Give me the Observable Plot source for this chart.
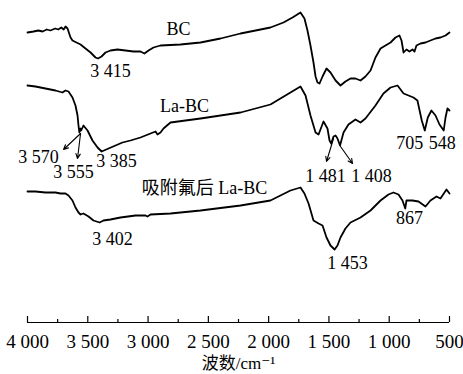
<!DOCTYPE html>
<html>
<head>
<meta charset="utf-8">
<script src="https://cdn.jsdelivr.net/npm/d3@7"></script>
<script src="https://cdn.jsdelivr.net/npm/@observablehq/plot@0.6"></script>
<style>
  html, body { margin: 0; padding: 0; background: #fff; }
  #chart svg { display: block; }
  #chart svg, #chart svg text { font-family: "Liberation Serif", "DejaVu Serif", "Noto Sans CJK SC", serif !important; }
</style>
</head>
<body>
<div id="chart"></div>
<script>
// Wavenumbers (cm^-1) and relative transmittance (arbitrary units, stacked offsets)
const bcWn = [4000,3950,3910,3875,3840,3810,3770,3745,3720,3700,3685,3668,3643,3627,3594,3560,3519,3477,3436,3415,3386,3353,3312,3254,3187,3121,3063,3030,2996,2955,2897,2731,2565,2399,2233,2067,1985,1877,1802,1736,1703,1678,1653,1628,1611,1595,1578,1553,1520,1487,1445,1404,1363,1321,1280,1238,1197,1155,1114,1072,1031,989,948,915,898,881,857,832,807,790,774,740,699,658,616,575,533,500];
const bcT  = [290,291,292,291,293,292,294,293,295,293,296,294,285,282,280,278,274,270,265,264,266,270,272,273,272,271,271,269,272,275,277,278,280,284,289,293,295,300,305,310,304,292,277,260,246,240,239,246,254,250,242,237,241,244,244,242,246,252,265,274,277,280,285,287,282,270,273,271,273,271,277,279,280,282,284,285,287,290];

const labcWn = [4000,3934,3851,3768,3710,3685,3660,3627,3602,3585,3577,3570,3560,3555,3536,3502,3461,3419,3385,3328,3270,3212,3146,3063,2980,2938,2922,2897,2872,2814,2565,2233,1985,1819,1736,1694,1653,1611,1586,1545,1512,1495,1481,1462,1445,1429,1408,1379,1338,1280,1238,1197,1114,1048,989,931,881,840,799,766,730,705,680,650,616,583,548,533,517,500];
const labcT  = [237,236,234,232,230,232,231,225,217,207,197,190,194,192,197,192,182,175,171,174,177,180,182,185,189,191,188,190,194,200,204,210,218,230,236,227,207,190,188,201,194,182,179,186,187,184,177,190,198,203,200,204,217,229,235,237,229,227,225,222,202,192,205,212,207,198,192,205,214,212];

const lafWn = [4000,3934,3851,3768,3726,3685,3660,3627,3602,3577,3560,3536,3494,3453,3402,3370,3312,3229,3104,3021,3005,2980,2814,2565,2233,1985,1819,1736,1703,1669,1628,1586,1553,1520,1487,1453,1429,1404,1363,1321,1238,1155,1072,1006,965,923,890,867,857,807,757,699,658,608,575,525,500];
const lafT  = [131,131,130,130,129,129,127,122,115,110,108,109,106,102,100,102,103,105,107,107,106,108,109,112,117,122,132,135,129,119,102,99,97,85,77,73,77,85,94,100,105,112,122,128,130,128,122,114,122,122,121,116,122,126,124,133,129];

// Annotation labels
const labelText = ["BC","3 415","La-BC","3 570","3 555","3 385","吸附氟后 La-BC","3 402","1 481","1 408","705","548","867","1 453"];
const labelWn   = [2748,3312,2698,3909,3618,3262,2532,3295,1528,1147,830,560,832,1346];
const labelT    = [293,251,216,165,150,161,134,83,146,146,179,179,104,59];

// Annotation arrows (start -> end)
const arrowWn1 = [3560,3560,1462,1404];
const arrowT1  = [189,189,184,176];
const arrowWn2 = [3701,3585,1520,1304];
const arrowT2  = [173,164,161,159];

// Axis ticks
const majorTicks = [4000,3500,3000,2500,2000,1500,1000,500];
const minorTicks = [3750,3250,2750,2250,1750,1250,750];
const xTitle = "波数/cm⁻¹";

const series = [
  {wn: bcWn, t: bcT},
  {wn: labcWn, t: labcT},
  {wn: lafWn, t: lafT}
].map((s, i) => s.wn.map((w, j) => ({series: i, w, t: s.t[j]})));

const labels = labelText.map((text, i) => ({text, w: labelWn[i], t: labelT[i]}));
const arrows = arrowWn1.map((w1, i) => ({w1, t1: arrowT1[i], w2: arrowWn2[i], t2: arrowT2[i]}));

const fmt = d => d >= 1000 ? d3.format(",")(d).replace(",", " ") : String(d);

const chart = Plot.plot({
  width: 463,
  height: 374,
  marginLeft: 27,
  marginRight: 14,
  marginTop: 0,
  marginBottom: 52,
  style: {fontFamily: '"Liberation Serif", "Noto Sans CJK SC", serif', fontSize: "18px", color: "#000", background: "#fff"},
  x: {domain: [4000, 500]},
  y: {domain: [0, 322], axis: null},
  marks: [
    Plot.ruleY([0], {stroke: "#000", strokeWidth: 1.2}),
    Plot.ruleX(majorTicks, {x: d => d, y1: 0, y2: 6, stroke: "#000", strokeWidth: 1.2}),
    Plot.ruleX(minorTicks, {x: d => d, y1: 0, y2: 3, stroke: "#000", strokeWidth: 1.2}),
    Plot.axisX({ticks: majorTicks, tickSize: 0, tickPadding: 12, tickFormat: fmt, fontSize: 19, label: null}),
    Plot.text([xTitle], {frameAnchor: "bottom", lineAnchor: "middle", dy: 41, fontSize: 17, fill: "#000"}),
    ...series.map(s => Plot.line(s, {x: "w", y: "t", stroke: "#000", strokeWidth: 1.8, curve: "linear"})),
    Plot.arrow(arrows, {x1: "w1", y1: "t1", x2: "w2", y2: "t2", stroke: "#000", strokeWidth: 1.1, headLength: 7, headAngle: 50}),
    Plot.text(labels, {x: "w", y: "t", text: "text", fontSize: 18, fill: "#000"})
  ]
});

document.getElementById("chart").appendChild(chart);
</script>
</body>
</html>
